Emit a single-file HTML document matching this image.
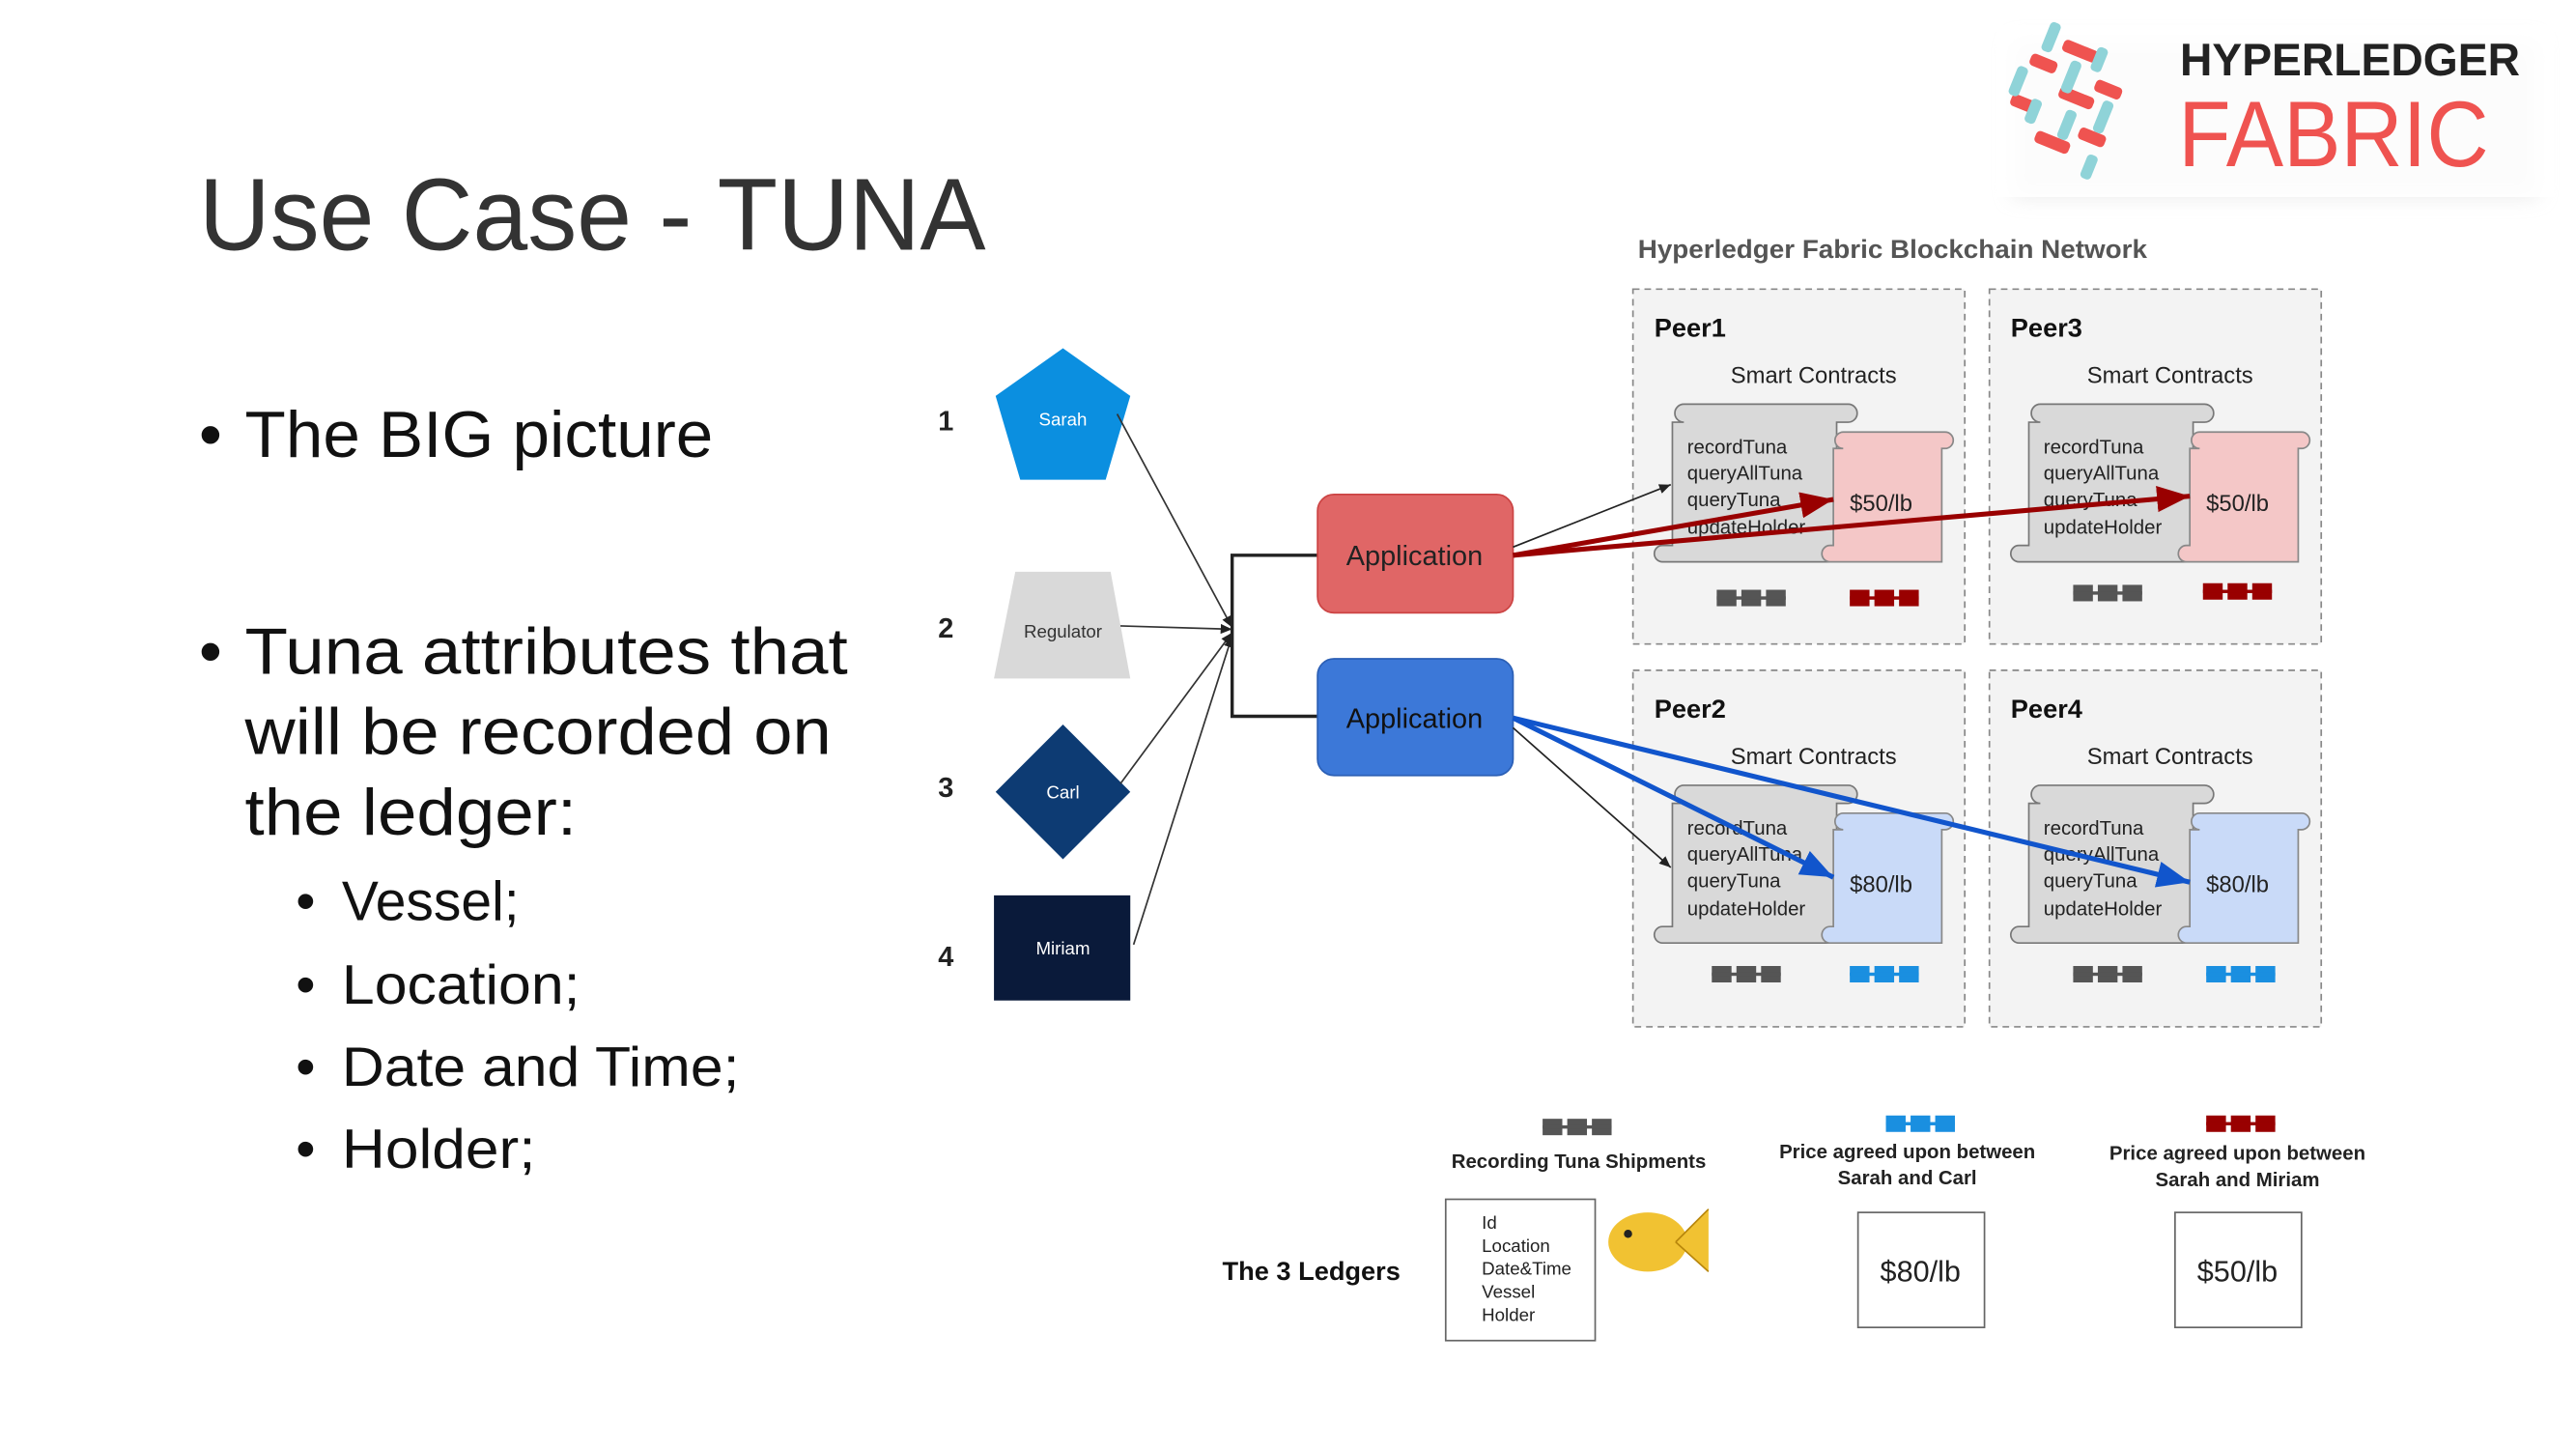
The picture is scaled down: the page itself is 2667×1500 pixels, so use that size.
<!DOCTYPE html>
<html><head><meta charset="utf-8"><style>
html,body{margin:0;padding:0;background:#fff}
svg{display:block}
text{font-family:"Liberation Sans",sans-serif}
</style></head><body>
<svg width="2667" height="1500" viewBox="0 0 1568 882" xmlns="http://www.w3.org/2000/svg">
<defs>
<marker id="ak" markerWidth="8" markerHeight="8" refX="7" refY="4" orient="auto" markerUnits="userSpaceOnUse"><path d="M0,1 L7,4 L0,7 Z" fill="#222"/></marker>
<marker id="ar" markerWidth="24" markerHeight="20" refX="20" refY="10" orient="auto" markerUnits="userSpaceOnUse"><path d="M0,2 L20,10 L0,18 Z" fill="#990000"/></marker>
<marker id="ab" markerWidth="24" markerHeight="20" refX="20" refY="10" orient="auto" markerUnits="userSpaceOnUse"><path d="M0,2 L20,10 L0,18 Z" fill="#1155cc"/></marker>
<g id="lg"><rect x="0" y="0" width="12" height="10"/><rect x="15" y="0" width="12" height="10"/><rect x="30" y="0" width="12" height="10"/><rect x="0" y="4" width="42" height="2"/></g>
<filter id="sh" x="-20%" y="-20%" width="140%" height="140%"><feGaussianBlur stdDeviation="6"/></filter>
</defs>

<!-- Logo -->
<rect x="1225" y="25" width="320" height="95" fill="#ddd" filter="url(#sh)" opacity="0.6"/>
<rect x="1215" y="15" width="340" height="105" fill="#fff" opacity="0.85"/>
<g transform="translate(1262,62) rotate(22) scale(0.85)">
<g fill="#ef5350">
<rect x="-22" y="-40" width="26" height="9" rx="3"/><rect x="-40" y="-22" width="20" height="9" rx="3"/><rect x="10" y="-22" width="20" height="9" rx="3"/>
<rect x="-12" y="-8" width="26" height="9" rx="3"/><rect x="-42" y="10" width="20" height="9" rx="3"/><rect x="12" y="14" width="20" height="9" rx="3"/><rect x="-16" y="28" width="26" height="9" rx="3"/>
</g>
<g fill="#8fd3d8">
<rect x="-36" y="-48" width="8" height="22" rx="3"/><rect x="-12" y="-28" width="8" height="24" rx="3"/><rect x="2" y="-44" width="8" height="18" rx="3"/>
<rect x="-46" y="-10" width="8" height="22" rx="3"/><rect x="20" y="-10" width="8" height="24" rx="3"/><rect x="-28" y="8" width="8" height="18" rx="3"/><rect x="-2" y="6" width="8" height="22" rx="3"/><rect x="24" y="30" width="8" height="18" rx="3"/>
</g></g>
<text x="1327" y="46" font-size="28" font-weight="bold" fill="#222" textLength="207" lengthAdjust="spacingAndGlyphs">HYPERLEDGER</text>
<text x="1326" y="101" font-size="57" fill="#ef5350" textLength="189" lengthAdjust="spacingAndGlyphs">FABRIC</text>

<!-- Title & bullets -->
<text x="121" y="152" font-size="62" fill="#333" textLength="479" lengthAdjust="spacingAndGlyphs">Use Case - TUNA</text>
<g font-size="40" fill="#111">
<text x="121" y="278">•</text><text x="149" y="278" textLength="285" lengthAdjust="spacingAndGlyphs">The BIG picture</text>
<text x="121" y="410">•</text><text x="149" y="410" textLength="367" lengthAdjust="spacingAndGlyphs">Tuna attributes that</text>
<text x="149" y="459" textLength="357" lengthAdjust="spacingAndGlyphs">will be recorded on</text>
<text x="149" y="508" textLength="202" lengthAdjust="spacingAndGlyphs">the ledger:</text>
</g>
<g font-size="34" fill="#111">
<text x="180" y="560">•</text><text x="208" y="560" textLength="108" lengthAdjust="spacingAndGlyphs">Vessel;</text>
<text x="180" y="611">•</text><text x="208" y="611" textLength="145" lengthAdjust="spacingAndGlyphs">Location;</text>
<text x="180" y="661">•</text><text x="208" y="661" textLength="242" lengthAdjust="spacingAndGlyphs">Date and Time;</text>
<text x="180" y="711">•</text><text x="208" y="711" textLength="118" lengthAdjust="spacingAndGlyphs">Holder;</text>
</g>

<!-- actors -->
<g font-size="17" font-weight="bold" fill="#222">
<text x="571" y="262">1</text><text x="571" y="388">2</text><text x="571" y="485">3</text><text x="571" y="588">4</text>
</g>
<polygon points="647,212 688,241 673,292 621,292 606,241" fill="#0b8fe0"/>
<text x="647" y="259" font-size="11" fill="#fff" text-anchor="middle">Sarah</text>
<polygon points="618,348 676,348 688,413 605,413" fill="#d9d9d9"/>
<text x="647" y="388" font-size="11" fill="#333" text-anchor="middle">Regulator</text>
<polygon points="647,441 688,482 647,523 606,482" fill="#0d3b73"/>
<text x="647" y="486" font-size="11" fill="#fff" text-anchor="middle">Carl</text>
<rect x="605" y="545" width="83" height="64" fill="#0a1a3a"/>
<text x="647" y="581" font-size="11" fill="#fff" text-anchor="middle">Miriam</text>
<g stroke="#333" stroke-width="1" fill="none" marker-end="url(#ak)">
<line x1="680" y1="252" x2="750" y2="382"/>
<line x1="682" y1="381" x2="750" y2="383"/>
<line x1="682" y1="477" x2="750" y2="385"/>
<line x1="690" y1="575" x2="750" y2="387"/>
</g>
<path d="M802,338 H750 V436 H802" stroke="#222" stroke-width="2" fill="none"/>
<rect x="802" y="301" width="119" height="72" rx="10" fill="#e06666" stroke="#cc4444"/>
<text x="861" y="344" font-size="17" fill="#222" text-anchor="middle">Application</text>
<rect x="802" y="401" width="119" height="71" rx="10" fill="#3c78d8" stroke="#2b5fb5"/>
<text x="861" y="443" font-size="17" fill="#111" text-anchor="middle">Application</text>

<text x="997" y="157" font-size="16" font-weight="bold" fill="#555" textLength="310" lengthAdjust="spacingAndGlyphs">Hyperledger Fabric Blockchain Network</text>

<!-- peers -->
<g>
<rect x="994" y="176" width="202" height="216" fill="#f3f3f3" stroke="#888" stroke-dasharray="4,3"/>
<text x="1007" y="205" font-size="16" font-weight="bold" fill="#111">Peer1</text>
<text x="1104" y="233" font-size="14" fill="#222" text-anchor="middle">Smart Contracts</text>
<path d="M1025,246 H1125 a5,5 0 0 1 0,11 H1118 V342 H1012 a5,5 0 0 1 0,-10 H1018 V257 H1025 a5,5 0 0 1 0,-11 Z" fill="#d9d9d9" stroke="#777"/>
<g font-size="12" fill="#222"><text x="1027" y="276">recordTuna</text><text x="1027" y="292">queryAllTuna</text><text x="1027" y="308">queryTuna</text><text x="1027" y="325">updateHolder</text></g>
<path d="M1122,263 H1184 a5,5 0 0 1 0,10 H1182 V342 H1114 a5,5 0 0 1 0,-10 H1116 V273 H1122 a5,5 0 0 1 0,-10 Z" fill="#f4c7c7" stroke="#888"/>
<text x="1126" y="311" font-size="14" fill="#222">$50/lb</text>
<use href="#lg" x="1045" y="359" fill="#555"/>
<use href="#lg" x="1126" y="359" fill="#990000"/>
</g>
<g transform="translate(217,0)">
<rect x="994" y="176" width="202" height="216" fill="#f3f3f3" stroke="#888" stroke-dasharray="4,3"/>
<text x="1007" y="205" font-size="16" font-weight="bold" fill="#111">Peer3</text>
<text x="1104" y="233" font-size="14" fill="#222" text-anchor="middle">Smart Contracts</text>
<path d="M1025,246 H1125 a5,5 0 0 1 0,11 H1118 V342 H1012 a5,5 0 0 1 0,-10 H1018 V257 H1025 a5,5 0 0 1 0,-11 Z" fill="#d9d9d9" stroke="#777"/>
<g font-size="12" fill="#222"><text x="1027" y="276">recordTuna</text><text x="1027" y="292">queryAllTuna</text><text x="1027" y="308">queryTuna</text><text x="1027" y="325">updateHolder</text></g>
<path d="M1122,263 H1184 a5,5 0 0 1 0,10 H1182 V342 H1114 a5,5 0 0 1 0,-10 H1116 V273 H1122 a5,5 0 0 1 0,-10 Z" fill="#f4c7c7" stroke="#888"/>
<text x="1126" y="311" font-size="14" fill="#222">$50/lb</text>
<use href="#lg" x="1045" y="356" fill="#555"/>
<use href="#lg" x="1124" y="355" fill="#990000"/>
</g>
<g transform="translate(0,232)">
<rect x="994" y="176" width="202" height="217" fill="#f3f3f3" stroke="#888" stroke-dasharray="4,3"/>
<text x="1007" y="205" font-size="16" font-weight="bold" fill="#111">Peer2</text>
<text x="1104" y="233" font-size="14" fill="#222" text-anchor="middle">Smart Contracts</text>
<path d="M1025,246 H1125 a5,5 0 0 1 0,11 H1118 V342 H1012 a5,5 0 0 1 0,-10 H1018 V257 H1025 a5,5 0 0 1 0,-11 Z" fill="#d9d9d9" stroke="#777"/>
<g font-size="12" fill="#222"><text x="1027" y="276">recordTuna</text><text x="1027" y="292">queryAllTuna</text><text x="1027" y="308">queryTuna</text><text x="1027" y="325">updateHolder</text></g>
<path d="M1122,263 H1184 a5,5 0 0 1 0,10 H1182 V342 H1114 a5,5 0 0 1 0,-10 H1116 V273 H1122 a5,5 0 0 1 0,-10 Z" fill="#c9daf8" stroke="#888"/>
<text x="1126" y="311" font-size="14" fill="#222">$80/lb</text>
<use href="#lg" x="1042" y="356" fill="#555"/>
<use href="#lg" x="1126" y="356" fill="#1a8fe0"/>
</g>
<g transform="translate(217,232)">
<rect x="994" y="176" width="202" height="217" fill="#f3f3f3" stroke="#888" stroke-dasharray="4,3"/>
<text x="1007" y="205" font-size="16" font-weight="bold" fill="#111">Peer4</text>
<text x="1104" y="233" font-size="14" fill="#222" text-anchor="middle">Smart Contracts</text>
<path d="M1025,246 H1125 a5,5 0 0 1 0,11 H1118 V342 H1012 a5,5 0 0 1 0,-10 H1018 V257 H1025 a5,5 0 0 1 0,-11 Z" fill="#d9d9d9" stroke="#777"/>
<g font-size="12" fill="#222"><text x="1027" y="276">recordTuna</text><text x="1027" y="292">queryAllTuna</text><text x="1027" y="308">queryTuna</text><text x="1027" y="325">updateHolder</text></g>
<path d="M1122,263 H1184 a5,5 0 0 1 0,10 H1182 V342 H1114 a5,5 0 0 1 0,-10 H1116 V273 H1122 a5,5 0 0 1 0,-10 Z" fill="#c9daf8" stroke="#888"/>
<text x="1126" y="311" font-size="14" fill="#222">$80/lb</text>
<use href="#lg" x="1045" y="356" fill="#555"/>
<use href="#lg" x="1126" y="356" fill="#1a8fe0"/>
</g>

<!-- connections -->
<line x1="921" y1="333" x2="1017" y2="295" stroke="#222" stroke-width="1" marker-end="url(#ak)"/>
<line x1="921" y1="338" x2="1116" y2="304" stroke="#990000" stroke-width="3" marker-end="url(#ar)"/>
<line x1="921" y1="338" x2="1333" y2="302" stroke="#990000" stroke-width="3" marker-end="url(#ar)"/>
<line x1="921" y1="437" x2="1116" y2="534" stroke="#1155cc" stroke-width="3" marker-end="url(#ab)"/>
<line x1="921" y1="437" x2="1333" y2="537" stroke="#1155cc" stroke-width="3" marker-end="url(#ab)"/>
<line x1="921" y1="443" x2="1017" y2="528" stroke="#222" stroke-width="1" marker-end="url(#ak)"/>

<!-- legend -->
<use href="#lg" x="939" y="681" fill="#555"/>
<use href="#lg" x="1148" y="679" fill="#1a8fe0"/>
<use href="#lg" x="1343" y="679" fill="#990000"/>
<g font-size="12" font-weight="bold" fill="#222" text-anchor="middle">
<text x="961" y="711">Recording Tuna Shipments</text>
<text x="1161" y="705">Price agreed upon between</text><text x="1161" y="721">Sarah and Carl</text>
<text x="1362" y="706">Price agreed upon between</text><text x="1362" y="722">Sarah and Miriam</text>
</g>
<text x="744" y="779" font-size="16" font-weight="bold" fill="#111">The 3 Ledgers</text>
<rect x="880" y="730" width="91" height="86" fill="#fff" stroke="#666"/>
<g font-size="11" fill="#222"><text x="902" y="748">Id</text><text x="902" y="762">Location</text><text x="902" y="776">Date&amp;Time</text><text x="902" y="790">Vessel</text><text x="902" y="804">Holder</text></g>
<ellipse cx="1003" cy="756" rx="24" ry="18" fill="#f1c232"/>
<polygon points="1020,756 1040,736 1040,774" fill="#f1c232"/>
<path d="M1020,756 L1040,736 M1020,756 L1040,774" stroke="#b8860b" stroke-width="1"/>
<circle cx="991" cy="751" r="2.5" fill="#222"/>
<rect x="1131" y="738" width="77" height="70" fill="#fff" stroke="#666"/>
<text x="1169" y="780" font-size="18" fill="#222" text-anchor="middle">$80/lb</text>
<rect x="1324" y="738" width="77" height="70" fill="#fff" stroke="#666"/>
<text x="1362" y="780" font-size="18" fill="#222" text-anchor="middle">$50/lb</text>
</svg>
</body></html>
